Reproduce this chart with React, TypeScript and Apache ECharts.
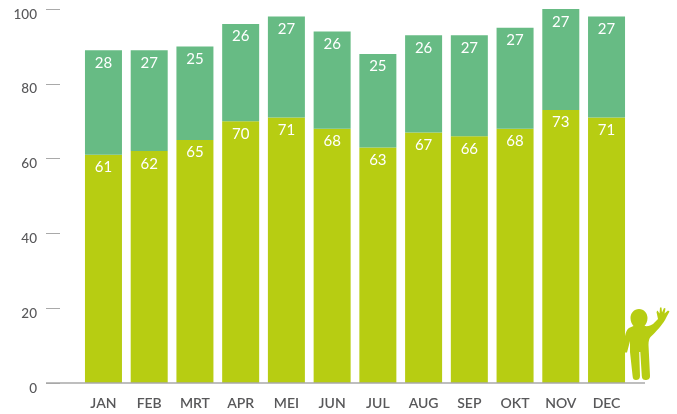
import React, { useEffect, useRef } from "react";
import * as echarts from "echarts";

const months = ["JAN", "FEB", "MRT", "APR", "MEI", "JUN", "JUL", "AUG", "SEP", "OKT", "NOV", "DEC"];
const lower = [61, 62, 65, 70, 71, 68, 63, 67, 66, 68, 73, 71];
const upper = [28, 27, 25, 26, 27, 26, 25, 26, 27, 27, 27, 27];

const personPath =
  "M639 309 C644 309 647.5 313 647.5 318 C647.5 321.5 646 324.5 644.5 326 C648 326.5 651 325.5 653 324 L658 319 L656.5 312 L657.5 310.5 L659.5 313.5 L660 307.5 L661.5 307.5 L662 312.5 L664 308 L665.5 308.5 L664.5 313.5 L668 310.5 L669.5 311.5 L667 316 L665 320 C662 325 656 332 651 336.5 C649 338.5 648.5 341 648.5 345 L650 376 C650 379 648 380 645.5 380 C643.5 380 642 379 641.8 376 L640.3 352 L639.2 352 L640 376 C640 379 638 380 636 380 C634 380 632.8 379 632.6 376 L630 352 L630 341 L627 352.5 L624.5 352.5 L624.2 344 C624.5 336 626 329 630 327.5 L633.5 326 C632 324.5 630.5 321.5 630.5 318 C630.5 313 634 309 639 309 Z";

echarts.graphic.registerShape("person", echarts.graphic.extendPath(personPath, {}) as any);

export default function App() {
  const ref = useRef<HTMLDivElement>(null);
  useEffect(() => {
    const chart = echarts.init(ref.current!, undefined, { renderer: "svg" });
    const label = {
      show: true,
      position: "insideTop" as const,
      distance: 4,
      color: "#ffffff",
      fontFamily: "Lato",
      fontSize: 15,
    };
    chart.setOption({
      animation: false,
      grid: { left: 80.6, right: 47.6, top: 9, bottom: 31 },
      xAxis: {
        type: "category",
        data: months,
        axisLine: { show: false },
        axisTick: { show: false },
        axisLabel: { color: "#58585a", fontFamily: "Lato", fontSize: 14, fontWeight: 600, margin: 12 },
      },
      yAxis: {
        type: "value",
        min: 0,
        max: 100,
        interval: 20,
        offset: 20.6,
        splitLine: { show: false },
        axisLine: { show: false },
        axisTick: { show: true, length: 14, lineStyle: { color: "#a9a9a9", width: 1 } },
        axisLabel: {
          color: "#58585a",
          fontFamily: "Lato",
          fontSize: 13.5,
          fontWeight: 500,
          margin: 23,
          verticalAlign: "top",
          lineHeight: 9,
        },
      },
      series: [
        { type: "bar", stack: "t", data: lower, barWidth: 37, itemStyle: { color: "#b7cd12" }, label },
        { type: "bar", stack: "t", data: upper, barWidth: 37, itemStyle: { color: "#67bb84" }, label },
      ],
      graphic: [
        {
          type: "line",
          z: 10,
          shape: { x1: 46, y1: 383, x2: 645, y2: 383 },
          style: { stroke: "#a9a9a9", lineWidth: 1.5 },
        },
        { type: "person", z: 11, style: { fill: "#b7cd12" } },
      ],
    });
    return () => chart.dispose();
  }, []);
  return <div ref={ref} style={{ position: "fixed", left: 0, top: 0, width: 677, height: 414 }} />;
}
